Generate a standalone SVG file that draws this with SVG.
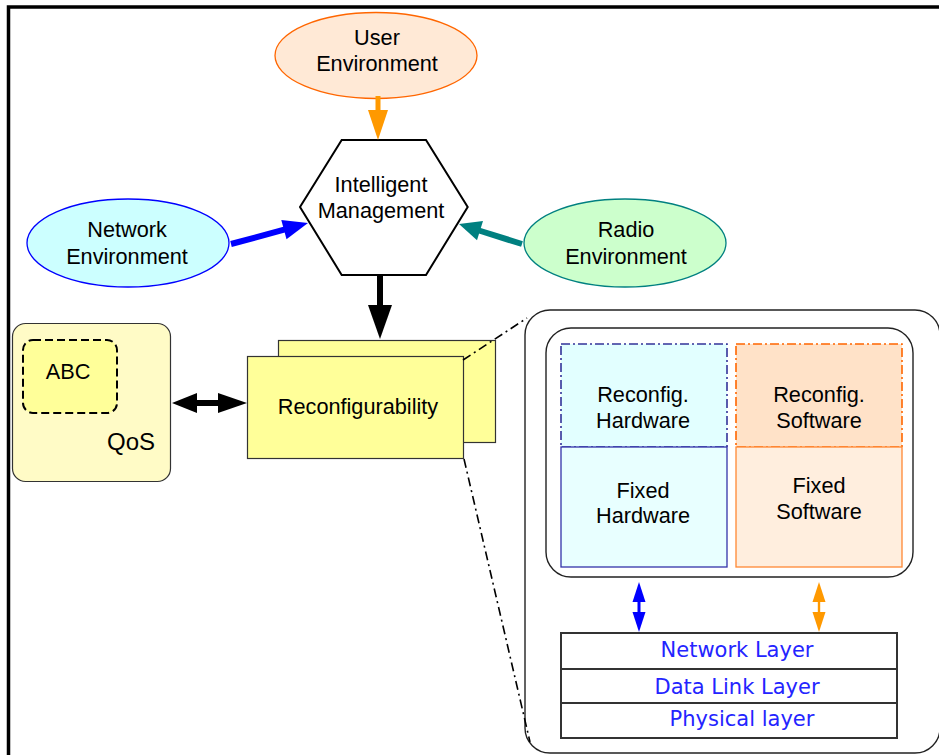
<svg xmlns="http://www.w3.org/2000/svg" width="939" height="755" viewBox="0 0 939 755">
<style>
text{font-family:"Liberation Sans",Arial,sans-serif;font-size:21.7px;fill:#000;text-anchor:middle}
.lay{font-family:"DejaVu Sans",Verdana,sans-serif;font-size:21px;fill:#2424FF}
.dd{fill:none;stroke:#000;stroke-width:1.6;stroke-dasharray:9 4 2 4}
</style>
<rect width="939" height="755" fill="#fff"/>
<path d="M8.5,755 V7 H939" fill="none" stroke="#000" stroke-width="3.5"/>

<g id="user-env">
  <ellipse cx="376" cy="55.5" rx="101" ry="43" fill="#FFE9D6" stroke="#FF6600" stroke-width="1.3"/>
  <text x="377" y="45">User</text>
  <text x="377" y="71">Environment</text>
</g>
<g id="intelligent-mgmt">
  <polygon points="341.7,140 426,140 467.7,207 426,275 341.7,275 300,207" fill="#fff" stroke="#000" stroke-width="2"/>
  <text x="381" y="192">Intelligent</text>
  <text x="381" y="218">Management</text>
</g>
<g id="network-env">
  <ellipse cx="128" cy="243" rx="101" ry="44" fill="#CCFFFF" stroke="#0000FF" stroke-width="1.3"/>
  <text x="127" y="237">Network</text>
  <text x="127" y="264">Environment</text>
</g>
<g id="radio-env">
  <ellipse cx="625" cy="243" rx="101" ry="44" fill="#CCFFCC" stroke="#008080" stroke-width="1.3"/>
  <text x="626" y="237">Radio</text>
  <text x="626" y="264">Environment</text>
</g>
<g id="qos">
  <rect x="12.5" y="323.5" width="158" height="158" rx="13" fill="#FFFBC6" stroke="#333" stroke-width="1.2"/>
  <rect x="23" y="340" width="94" height="73" rx="10" fill="#FFFF99" stroke="#000" stroke-width="2" stroke-dasharray="8 4"/>
  <text x="68" y="379">ABC</text>
  <text x="155" y="450" style="font-size:24px;text-anchor:end">QoS</text>
</g>
<g id="reconfigurability">
  <rect x="278.5" y="340.5" width="217" height="102" fill="#FFFF99" stroke="#333" stroke-width="1.2"/>
  <rect x="247.5" y="356.5" width="216" height="102" fill="#FFFF99" stroke="#333" stroke-width="1.2"/>
  <text x="358" y="414">Reconfigurability</text>
</g>
<g id="detail">
  <rect x="525" y="310" width="415" height="443" rx="25" fill="#fff" stroke="#222" stroke-width="1.4"/>
  <rect x="546" y="328" width="367" height="249" rx="25" fill="#fff" stroke="#222" stroke-width="1.4"/>
</g>
<g id="reconfig-hw">
  <rect x="561" y="344" width="166" height="103" fill="#E2FFFF" stroke="#333399" stroke-width="1.6" stroke-dasharray="9 3 2 3"/>
  <text x="643" y="402">Reconfig.</text>
  <text x="643" y="428">Hardware</text>
</g>
<g id="fixed-hw">
  <rect x="561" y="447" width="166" height="120" fill="#E8FFFF" stroke="#3333AA" stroke-width="1.3"/>
  <text x="643" y="498">Fixed</text>
  <text x="643" y="523">Hardware</text>
</g>
<g id="reconfig-sw">
  <rect x="736" y="344" width="166" height="103" fill="#FFE2C8" stroke="#FF6600" stroke-width="1.6" stroke-dasharray="9 3 2 3"/>
  <text x="819" y="402">Reconfig.</text>
  <text x="819" y="428">Software</text>
</g>
<g id="fixed-sw">
  <rect x="736" y="447" width="166" height="120" fill="#FFEEDE" stroke="#FF8833" stroke-width="1.3"/>
  <text x="819" y="493">Fixed</text>
  <text x="819" y="519">Software</text>
</g>
<g id="layers">
  <rect x="561" y="633" width="336" height="105" fill="#fff" stroke="#333" stroke-width="2"/>
  <line x1="561" y1="669" x2="897" y2="669" stroke="#333" stroke-width="2"/>
  <line x1="561" y1="703" x2="897" y2="703" stroke="#333" stroke-width="2"/>
  <text class="lay" x="737" y="657">Network Layer</text>
  <text class="lay" x="737" y="694">Data Link Layer</text>
  <text class="lay" x="742" y="726">Physical layer</text>
</g>

<g id="connectors">
  <rect x="375.5" y="96" width="5" height="16" fill="#FF9900"/>
  <polygon points="368,110 388,110 378,140" fill="#FF9900"/>
  <line x1="231" y1="244" x2="286" y2="229.2" stroke="#0000FF" stroke-width="6"/>
  <polygon points="308,223 286.5,239.3 281.3,219.9" fill="#0000FF"/>
  <line x1="522" y1="244" x2="479" y2="230.5" stroke="#008080" stroke-width="6"/>
  <polygon points="459,224 483,221.1 477,240.2" fill="#008080"/>
  <rect x="377" y="275" width="6" height="33" fill="#000"/>
  <polygon points="368,305 392,305 380,339" fill="#000"/>
  <rect x="195" y="400" width="25" height="6" fill="#000"/>
  <polygon points="172,403 197,393 197,413" fill="#000"/>
  <polygon points="247,403 218,393 218,413" fill="#000"/>
  <line class="dd" x1="463" y1="360" x2="527" y2="318"/>
  <line class="dd" x1="464" y1="459" x2="530" y2="742"/>
  <rect x="637.5" y="598" width="3" height="18" fill="#0000FF"/>
  <polygon points="639,582 632.5,602 645.5,602" fill="#0000FF"/>
  <polygon points="639,632 632.5,612 645.5,612" fill="#0000FF"/>
  <rect x="817.8" y="598" width="2.4" height="18" fill="#FF9900"/>
  <polygon points="819,582 812.5,602 825.5,602" fill="#FF9900"/>
  <polygon points="819,632 812.5,612 825.5,612" fill="#FF9900"/>
</g>
</svg>
